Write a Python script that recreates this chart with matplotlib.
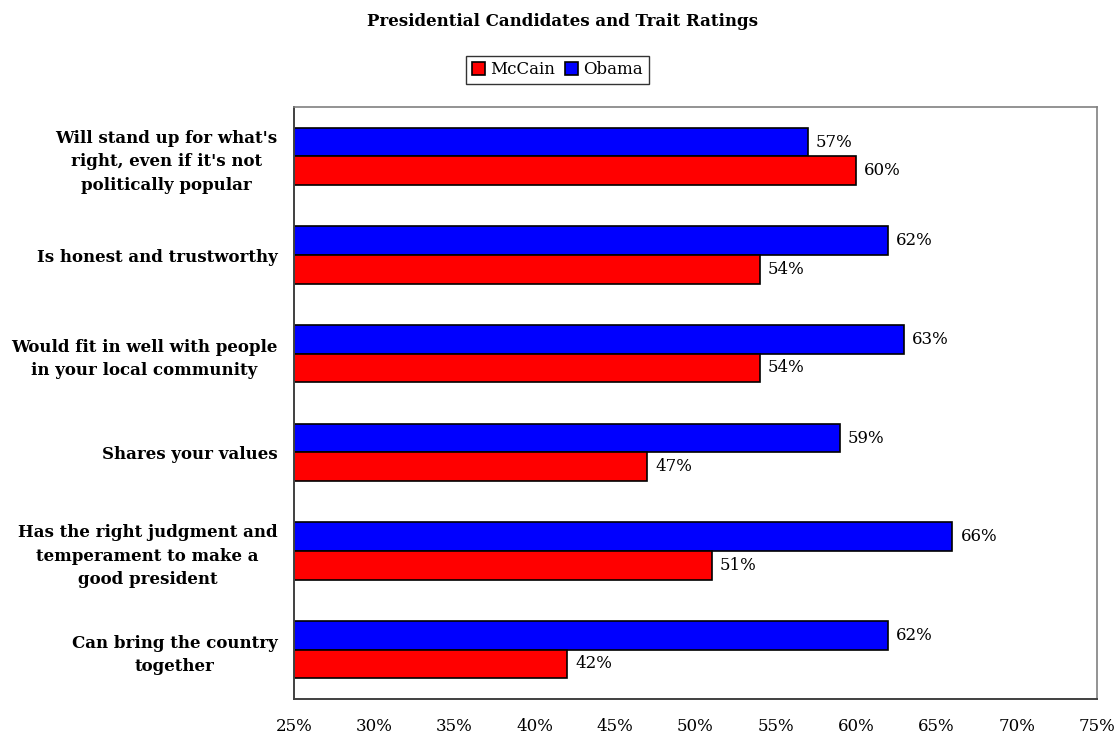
import numpy as np
import matplotlib.pyplot as plt

traits = [
    "Will stand up for what's\nright, even if it's not\npolitically popular",
    "Is honest and trustworthy",
    "Would fit in well with people\nin your local community",
    "Shares your values",
    "Has the right judgment and\ntemperament to make a\ngood president",
    "Can bring the country\ntogether",
]
mccain = [60, 54, 54, 47, 51, 42]
obama = [57, 62, 63, 59, 66, 62]
ticks = [25, 30, 35, 40, 45, 50, 55, 60, 65, 70, 75]

plt.rcParams["font.family"] = ["DejaVu Serif"]

fig = plt.figure(figsize=(11.19, 7.40), dpi=100)
ax = fig.add_axes([294 / 1119, 1 - 699 / 740, 803 / 1119, 592 / 740])

y = np.arange(len(traits))[::-1].astype(float)
h = 0.29

b_obama = ax.barh(y + h / 2, [v - 25 for v in obama], left=25, height=h,
                  color="#0000ff", edgecolor="black", linewidth=1.2, label="Obama")
b_mccain = ax.barh(y - h / 2, [v - 25 for v in mccain], left=25, height=h,
                   color="#ff0000", edgecolor="black", linewidth=1.2, label="McCain")

for yy, v in zip(y + h / 2, obama):
    ax.text(v + 0.5, yy, f"{v}%", va="center", ha="left", fontsize=12)
for yy, v in zip(y - h / 2, mccain):
    ax.text(v + 0.5, yy, f"{v}%", va="center", ha="left", fontsize=12)

ax.set_xlim(25, 75)
ax.set_ylim(-0.5, len(traits) - 0.5)
ax.set_xticks(ticks)
ax.set_xticklabels([f"{t}%" for t in ticks], fontsize=12)
ax.set_yticks(y)
ax.set_yticklabels(traits, fontsize=12, fontweight="bold",
                   multialignment="center", linespacing=1.5)
ax.tick_params(axis="both", length=0)
ax.tick_params(axis="x", pad=14)
ax.tick_params(axis="y", pad=12)

for side in ["top", "right"]:
    ax.spines[side].set_color("#808080")
    ax.spines[side].set_linewidth(1.2)
for side in ["left", "bottom"]:
    ax.spines[side].set_color("#404040")
    ax.spines[side].set_linewidth(1.4)

fig.text(0.503, 1 - 21 / 740, "Presidential Candidates and Trait Ratings",
         ha="center", va="center", fontsize=12, fontweight="bold")

handles = [b_mccain, b_obama]
fig.legend(handles, ["McCain", "Obama"], loc="center", ncol=2,
           bbox_to_anchor=(0.498, 1 - 70 / 740), fontsize=12, frameon=True,
           fancybox=False, edgecolor="black", handlelength=0.8, handleheight=0.8,
           handletextpad=0.3, columnspacing=0.6, borderpad=0.35)

fig.savefig("out.png", dpi=100)
